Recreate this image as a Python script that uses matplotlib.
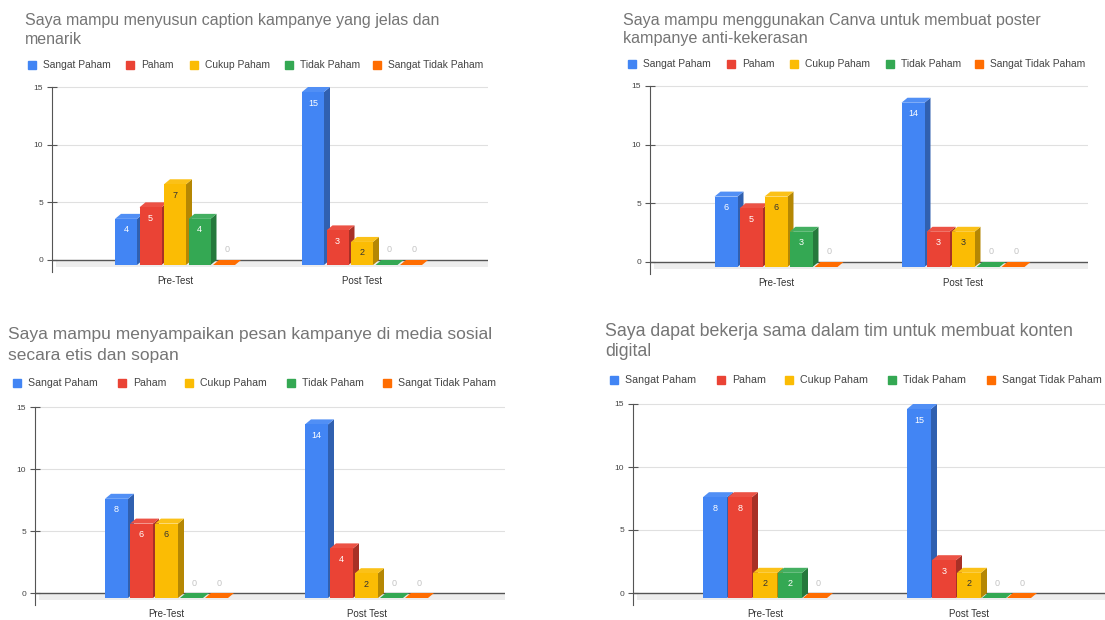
import matplotlib
matplotlib.use('Agg')
import matplotlib.pyplot as plt
from matplotlib.patches import Polygon, Rectangle
import matplotlib.colors as mcolors
import numpy as np

plt.rcParams['font.family'] = ['Liberation Sans', 'DejaVu Sans']

# ---------------- data ----------------
categories = ['Pre-Test', 'Post Test']
series = ['Sangat Paham', 'Paham', 'Cukup Paham', 'Tidak Paham', 'Sangat Tidak Paham']
colors = ['#4285F4', '#EA4335', '#FBBC04', '#34A853', '#FF6D01']
yticks = [0, 5, 10, 15]

title_caption = ['Saya mampu menyusun caption kampanye yang jelas dan', 'menarik']
caption_pre = [4, 5, 7, 4, 0]
caption_post = [15, 3, 2, 0, 0]

title_canva = ['Saya mampu menggunakan Canva untuk membuat poster', 'kampanye anti-kekerasan']
canva_pre = [6, 5, 6, 3, 0]
canva_post = [14, 3, 3, 0, 0]

title_sosmed = ['Saya mampu menyampaikan pesan kampanye di media sosial', 'secara etis dan sopan']
sosmed_pre = [8, 6, 6, 0, 0]
sosmed_post = [14, 4, 2, 0, 0]

title_tim = ['Saya dapat bekerja sama dalam tim untuk membuat konten', 'digital']
tim_pre = [8, 8, 2, 2, 0]
tim_post = [15, 3, 2, 0, 0]

# ---------------- layout (pixels) ----------------
W, H = 1105, 620
layouts = [
    dict(tx=25, ty=20, tls=20, tfs=11.5, ly=65, lx=[28, 126, 190, 285, 373], lfs=7.4,
         ax=52, rx=488, y15=87, y0=260, pre=175, post=362, bw=22, step=24.5),
    dict(tx=623, ty=20, tls=19, tfs=11.6, ly=64, lx=[628, 727, 790, 886, 975], lfs=7.4,
         ax=650, rx=1088, y15=86, y0=262, pre=776, post=963, bw=23, step=25),
    dict(tx=8, ty=335, tls=20, tfs=12.5, ly=383, lx=[13, 118, 185, 287, 383], lfs=7.6,
         ax=35, rx=505, y15=407, y0=593, pre=166.5, post=366.5, bw=23, step=25),
    dict(tx=605, ty=332, tls=20, tfs=12.8, ly=380, lx=[610, 717, 785, 888, 987], lfs=7.7,
         ax=633, rx=1105, y15=404, y0=593, pre=765, post=969, bw=24, step=25),
]


def shade(c, f):
    r, g, b = mcolors.to_rgb(c)
    return (r * f, g * f, b * f)


def lighten(c, f):
    r, g, b = mcolors.to_rgb(c)
    return (r + (1 - r) * f, g + (1 - g) * f, b + (1 - b) * f)


def draw_chart(fig, title_lines, pre, post, L):
    for i, line in enumerate(title_lines):
        fig.text(L['tx'] / W, 1 - (L['ty'] + i * L['tls']) / H, line, fontsize=L['tfs'],
                 color='#757575', va='center', ha='left')
    for name, col, lx in zip(series, colors, L['lx']):
        fig.patches.append(Rectangle((lx / W, 1 - (L['ly'] + 4) / H), 8 / W, 8 / H,
                                     transform=fig.transFigure, color=col))
        fig.text((lx + 15) / W, 1 - L['ly'] / H, name, fontsize=L['lfs'], color='#444444',
                 va='center', ha='left')

    bottom_px = L['y0'] + 12
    top_px = L['y15'] - 2
    left, right = L['ax'], L['rx']
    ax = fig.add_axes([left / W, 1 - bottom_px / H, (right - left) / W, (bottom_px - top_px) / H])
    ax.set_facecolor('none')
    ymax = yticks[-1]
    ppy = (L['y0'] - L['y15']) / ymax
    ppx = L['post'] - L['pre']
    ylo = -(bottom_px - L['y0']) / ppy
    ax.set_ylim(ylo, (L['y0'] - top_px) / ppy)
    x0lim, x1lim = (left - L['pre']) / ppx, (right - L['pre']) / ppx
    ax.set_xlim(x0lim, x1lim)

    w = L['bw'] / ppx
    step = L['step'] / ppx
    dx = 6 / ppx
    dy = 5 / ppy
    span = 4 * step + w

    # grid, floor, zero line
    for t in yticks[1:]:
        ax.axhline(t, color='#e0e0e0', lw=0.8, zorder=0)
    ax.fill_between([x0lim + 4 / ppx, x1lim], -dy - 2 / ppy, 0, color='#ededed', lw=0, zorder=0.5)
    ax.axhline(0, color='#555555', lw=1.0, zorder=1)

    z = 2
    for gi, vals in enumerate([pre, post]):
        for si, v in enumerate(vals):
            col = colors[si]
            xl = gi - span / 2 + si * step
            side = Polygon([(xl + w, -dy), (xl + w + dx, 0), (xl + w + dx, v), (xl + w, v - dy)],
                           closed=True, facecolor=shade(col, 0.72), edgecolor='none', zorder=z)
            top = Polygon([(xl, v - dy), (xl + dx, v), (xl + w + dx, v), (xl + w, v - dy)],
                          closed=True, facecolor=lighten(col, 0.08) if v > 0 else col,
                          edgecolor='none', zorder=z)
            ax.add_patch(side)
            ax.add_patch(top)
            ax.bar(xl, v, width=w, bottom=-dy, align='edge', color=col, lw=0, zorder=z + 0.5)
            if v > 0:
                tc = '#333333' if si == 2 else 'white'
                ax.text(xl + w / 2, v - dy - 11 / ppy, str(v), color=tc, fontsize=6.5,
                        ha='center', va='center', zorder=z + 1)
            else:
                ax.text(xl + w / 2 + dx / 2, 10 / ppy, '0', color='#c4c4c4', fontsize=6.5,
                        ha='center', va='center', zorder=z + 1)
            z += 2

    for s in ['top', 'right', 'bottom']:
        ax.spines[s].set_visible(False)
    ax.spines['left'].set_color('#555555')
    ax.spines['left'].set_bounds(ylo, ymax)
    ax.set_yticks(yticks)
    ax.set_yticklabels([str(t) for t in yticks])
    ax.tick_params(axis='y', direction='inout', length=7, color='#555555', labelsize=6,
                   labelcolor='#444444', pad=3)
    ax.set_xticks([0, 1])
    ax.set_xticklabels(categories)
    ax.tick_params(axis='x', length=0, labelsize=7, labelcolor='#333333', pad=3)


fig = plt.figure(figsize=(W / 100, H / 100), dpi=100)
fig.patch.set_facecolor('white')
draw_chart(fig, title_caption, caption_pre, caption_post, layouts[0])
draw_chart(fig, title_canva, canva_pre, canva_post, layouts[1])
draw_chart(fig, title_sosmed, sosmed_pre, sosmed_post, layouts[2])
draw_chart(fig, title_tim, tim_pre, tim_post, layouts[3])
fig.savefig('out.png', dpi=100)
